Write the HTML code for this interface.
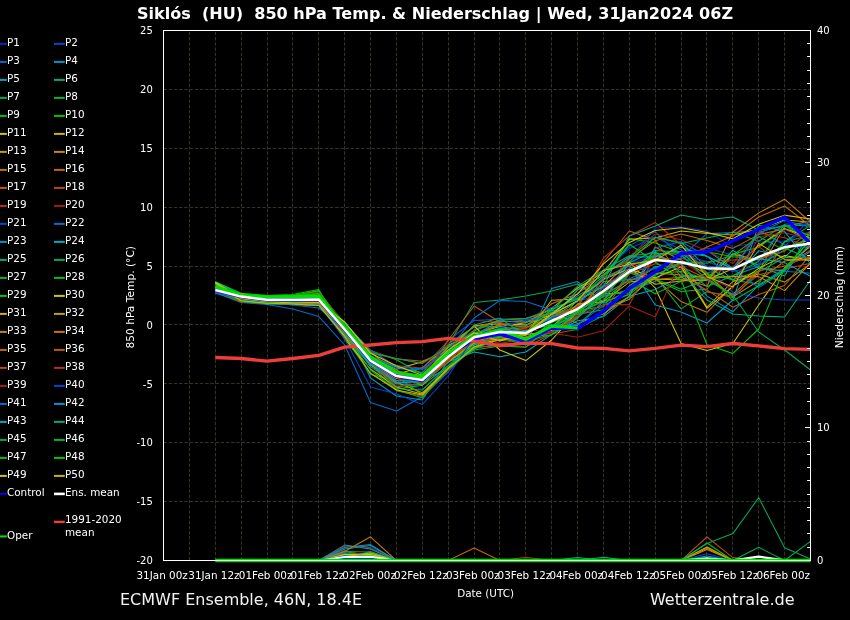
<!DOCTYPE html>
<html lang="de"><head><meta charset="utf-8">
<title>Siklós (HU) 850 hPa Temp. &amp; Niederschlag</title>
<style>
html,body{margin:0;padding:0;background:#000;}
body{width:850px;height:620px;overflow:hidden;}
svg{display:block;will-change:transform;}
text{font-family:"DejaVu Sans","Liberation Sans",sans-serif;fill:#fff;}
.t10{font-size:10.4px;}
.thin polyline{fill:none;stroke-width:1.05;stroke-linejoin:round;}
.grid line{stroke:#343223;stroke-width:1;stroke-dasharray:3.5 1.7;}
.spine{stroke:#fff;stroke-width:1;fill:none;}
.tick line{stroke:#fff;stroke-width:1;}
.t10s{font-size:10px;}
.t107{font-size:10.67px;}
</style></head><body>
<svg width="850" height="620" viewBox="0 0 850 620" role="img" aria-label="ECMWF Ensemble Siklós">
<rect x="0" y="0" width="850" height="620" fill="#000"/>
<g class="grid">
<line x1="189.5" y1="560.5" x2="189.5" y2="30.5"/>
<line x1="215.5" y1="560.5" x2="215.5" y2="30.5"/>
<line x1="241.5" y1="560.5" x2="241.5" y2="30.5"/>
<line x1="267.5" y1="560.5" x2="267.5" y2="30.5"/>
<line x1="292.5" y1="560.5" x2="292.5" y2="30.5"/>
<line x1="318.5" y1="560.5" x2="318.5" y2="30.5"/>
<line x1="344.5" y1="560.5" x2="344.5" y2="30.5"/>
<line x1="370.5" y1="560.5" x2="370.5" y2="30.5"/>
<line x1="396.5" y1="560.5" x2="396.5" y2="30.5"/>
<line x1="422.5" y1="560.5" x2="422.5" y2="30.5"/>
<line x1="448.5" y1="560.5" x2="448.5" y2="30.5"/>
<line x1="474.5" y1="560.5" x2="474.5" y2="30.5"/>
<line x1="499.5" y1="560.5" x2="499.5" y2="30.5"/>
<line x1="525.5" y1="560.5" x2="525.5" y2="30.5"/>
<line x1="551.5" y1="560.5" x2="551.5" y2="30.5"/>
<line x1="577.5" y1="560.5" x2="577.5" y2="30.5"/>
<line x1="603.5" y1="560.5" x2="603.5" y2="30.5"/>
<line x1="629.5" y1="560.5" x2="629.5" y2="30.5"/>
<line x1="655.5" y1="560.5" x2="655.5" y2="30.5"/>
<line x1="681.5" y1="560.5" x2="681.5" y2="30.5"/>
<line x1="706.5" y1="560.5" x2="706.5" y2="30.5"/>
<line x1="732.5" y1="560.5" x2="732.5" y2="30.5"/>
<line x1="758.5" y1="560.5" x2="758.5" y2="30.5"/>
<line x1="784.5" y1="560.5" x2="784.5" y2="30.5"/>
<line x1="163.5" y1="501.5" x2="810.5" y2="501.5"/>
<line x1="163.5" y1="442.5" x2="810.5" y2="442.5"/>
<line x1="163.5" y1="383.5" x2="810.5" y2="383.5"/>
<line x1="163.5" y1="324.5" x2="810.5" y2="324.5"/>
<line x1="163.5" y1="266.5" x2="810.5" y2="266.5"/>
<line x1="163.5" y1="207.5" x2="810.5" y2="207.5"/>
<line x1="163.5" y1="148.5" x2="810.5" y2="148.5"/>
<line x1="163.5" y1="89.5" x2="810.5" y2="89.5"/>
</g>
<g class="thin">
<polyline points="215.3,289.8 241.1,298.7 267.0,301.6 292.9,300.9 318.8,298.5 344.7,325.5 370.5,361.2 396.4,380.5 422.3,389.6 448.2,364.1 474.1,344.3 499.9,338.2 525.8,327.4 551.7,321.9 577.6,315.6 603.5,301.4 629.3,259.3 655.2,228.1 681.1,226.8 707.0,231.0 732.9,247.1 758.7,242.0 784.6,241.0 810.5,231.2" stroke="rgb(0,40,200)"/>
<polyline points="215.3,293.4 241.1,299.4 267.0,301.8 292.9,303.0 318.8,304.0 344.7,337.7 370.5,364.5 396.4,377.2 422.3,378.3 448.2,354.9 474.1,339.0 499.9,334.8 525.8,331.9 551.7,314.1 577.6,300.8 603.5,295.3 629.3,263.7 655.2,256.3 681.1,264.6 707.0,247.9 732.9,255.0 758.7,264.9 784.6,224.1 810.5,224.1" stroke="rgb(0,70,210)"/>
<polyline points="215.3,292.8 241.1,302.4 267.0,304.5 292.9,309.0 318.8,316.6 344.7,345.0 370.5,402.5 396.4,411.0 422.3,396.8 448.2,372.0 474.1,345.6 499.9,330.9 525.8,335.3 551.7,318.8 577.6,305.4 603.5,276.9 629.3,245.6 655.2,231.9 681.1,257.1 707.0,233.6 732.9,232.4 758.7,230.2 784.6,244.7 810.5,248.0" stroke="rgb(0,110,210)"/>
<polyline points="215.3,287.1 241.1,294.0 267.0,297.7 292.9,296.2 318.8,293.6 344.7,324.8 370.5,378.0 396.4,396.0 422.3,400.0 448.2,360.8 474.1,348.6 499.9,343.8 525.8,344.5 551.7,288.6 577.6,281.6 603.5,303.3 629.3,290.4 655.2,281.4 681.1,251.4 707.0,250.5 732.9,268.3 758.7,232.5 784.6,224.9 810.5,240.4" stroke="rgb(0,150,205)"/>
<polyline points="215.3,288.1 241.1,298.7 267.0,302.7 292.9,302.3 318.8,302.9 344.7,333.0 370.5,363.5 396.4,386.7 422.3,384.0 448.2,356.8 474.1,342.7 499.9,336.2 525.8,330.4 551.7,324.8 577.6,325.4 603.5,301.3 629.3,262.7 655.2,250.6 681.1,252.1 707.0,256.2 732.9,280.4 758.7,250.7 784.6,257.1 810.5,234.2" stroke="rgb(0,170,190)"/>
<polyline points="215.3,288.9 241.1,298.1 267.0,303.0 292.9,304.7 318.8,305.1 344.7,333.4 370.5,364.0 396.4,384.0 422.3,384.9 448.2,361.2 474.1,343.2 499.9,336.4 525.8,340.3 551.7,330.0 577.6,328.6 603.5,315.6 629.3,286.0 655.2,266.5 681.1,266.8 707.0,286.4 732.9,275.8 758.7,266.4 784.6,276.0 810.5,231.0" stroke="rgb(0,170,130)"/>
<polyline points="215.3,288.4 241.1,297.1 267.0,301.3 292.9,296.5 318.8,290.5 344.7,330.5 370.5,362.0 396.4,376.1 422.3,394.7 448.2,367.9 474.1,341.8 499.9,334.9 525.8,333.3 551.7,320.7 577.6,289.8 603.5,270.6 629.3,262.0 655.2,237.2 681.1,242.5 707.0,267.7 732.9,280.3 758.7,283.9 784.6,241.9 810.5,235.2" stroke="rgb(0,170,90)"/>
<polyline points="215.3,289.6 241.1,298.7 267.0,303.4 292.9,298.2 318.8,301.0 344.7,323.8 370.5,357.9 396.4,366.7 422.3,373.0 448.2,358.7 474.1,337.4 499.9,333.3 525.8,338.2 551.7,325.7 577.6,314.3 603.5,309.7 629.3,297.1 655.2,276.5 681.1,308.9 707.0,291.4 732.9,297.5 758.7,271.9 784.6,257.5 810.5,257.7" stroke="rgb(0,180,60)"/>
<polyline points="215.3,284.2 241.1,299.6 267.0,300.4 292.9,295.8 318.8,292.2 344.7,323.5 370.5,350.6 396.4,359.8 422.3,374.2 448.2,357.0 474.1,345.2 499.9,332.7 525.8,332.9 551.7,313.7 577.6,310.3 603.5,306.7 629.3,272.9 655.2,280.1 681.1,291.5 707.0,289.2 732.9,253.9 758.7,265.6 784.6,249.9 810.5,237.4" stroke="rgb(0,190,30)"/>
<polyline points="215.3,281.8 241.1,293.3 267.0,295.5 292.9,294.5 318.8,289.4 344.7,338.1 370.5,373.5 396.4,388.9 422.3,385.3 448.2,365.6 474.1,343.8 499.9,337.6 525.8,345.1 551.7,328.4 577.6,299.9 603.5,280.1 629.3,238.6 655.2,243.1 681.1,252.6 707.0,251.7 732.9,256.8 758.7,259.8 784.6,248.1 810.5,259.0" stroke="rgb(0,200,0)"/>
<polyline points="215.3,290.1 241.1,299.7 267.0,303.8 292.9,304.0 318.8,305.5 344.7,336.3 370.5,358.1 396.4,369.2 422.3,361.7 448.2,350.7 474.1,325.7 499.9,323.7 525.8,325.0 551.7,314.6 577.6,300.7 603.5,286.3 629.3,262.0 655.2,288.0 681.1,343.5 707.0,350.5 732.9,343.5 758.7,305.0 784.6,268.0 810.5,246.2" stroke="rgb(210,200,0)"/>
<polyline points="215.3,287.5 241.1,295.2 267.0,300.7 292.9,302.2 318.8,302.0 344.7,332.6 370.5,363.4 396.4,373.7 422.3,367.8 448.2,345.2 474.1,333.6 499.9,326.4 525.8,322.8 551.7,308.3 577.6,288.0 603.5,272.4 629.3,239.3 655.2,237.9 681.1,231.1 707.0,233.4 732.9,234.9 758.7,229.2 784.6,220.0 810.5,222.0" stroke="rgb(205,180,0)"/>
<polyline points="215.3,286.6 241.1,293.9 267.0,298.9 292.9,297.9 318.8,299.9 344.7,330.4 370.5,363.5 396.4,382.2 422.3,392.8 448.2,368.4 474.1,347.7 499.9,328.1 525.8,334.8 551.7,330.4 577.6,316.9 603.5,293.8 629.3,292.9 655.2,254.8 681.1,264.1 707.0,307.2 732.9,281.5 758.7,274.1 784.6,282.1 810.5,263.9" stroke="rgb(200,160,0)"/>
<polyline points="215.3,291.1 241.1,300.4 267.0,301.9 292.9,301.7 318.8,302.2 344.7,332.9 370.5,362.8 396.4,378.6 422.3,375.2 448.2,351.5 474.1,338.0 499.9,333.2 525.8,328.4 551.7,312.1 577.6,323.4 603.5,313.8 629.3,296.2 655.2,247.1 681.1,260.0 707.0,274.3 732.9,296.9 758.7,280.7 784.6,261.1 810.5,257.9" stroke="rgb(200,140,0)"/>
<polyline points="215.3,287.1 241.1,297.0 267.0,301.1 292.9,299.7 318.8,303.0 344.7,337.1 370.5,360.7 396.4,374.0 422.3,379.6 448.2,357.3 474.1,335.0 499.9,325.1 525.8,339.7 551.7,332.4 577.6,311.8 603.5,281.6 629.3,279.4 655.2,278.3 681.1,301.6 707.0,312.3 732.9,285.8 758.7,271.2 784.6,226.7 810.5,220.8" stroke="rgb(200,120,0)"/>
<polyline points="215.3,290.1 241.1,299.0 267.0,301.1 292.9,300.8 318.8,301.8 344.7,330.9 370.5,363.9 396.4,381.9 422.3,382.2 448.2,362.4 474.1,341.1 499.9,330.4 525.8,327.5 551.7,316.7 577.6,306.2 603.5,290.3 629.3,268.3 655.2,259.1 681.1,259.1 707.0,247.0 732.9,236.0 758.7,217.0 784.6,206.0 810.5,226.0" stroke="rgb(195,105,0)"/>
<polyline points="215.3,290.9 241.1,297.7 267.0,298.5 292.9,298.6 318.8,296.3 344.7,326.7 370.5,353.0 396.4,358.8 422.3,361.2 448.2,350.3 474.1,330.1 499.9,319.4 525.8,318.3 551.7,312.9 577.6,307.5 603.5,262.0 629.3,231.0 655.2,240.0 681.1,277.4 707.0,289.9 732.9,307.2 758.7,294.5 784.6,285.5 810.5,254.7" stroke="rgb(190,90,10)"/>
<polyline points="215.3,289.9 241.1,299.2 267.0,301.8 292.9,303.9 318.8,305.0 344.7,335.9 370.5,364.7 396.4,390.7 422.3,396.2 448.2,370.1 474.1,347.0 499.9,346.1 525.8,346.9 551.7,334.3 577.6,329.2 603.5,311.2 629.3,273.9 655.2,263.7 681.1,269.7 707.0,291.9 732.9,295.9 758.7,274.7 784.6,269.0 810.5,263.2" stroke="rgb(190,70,20)"/>
<polyline points="215.3,290.5 241.1,298.7 267.0,301.6 292.9,297.0 318.8,291.5 344.7,325.6 370.5,356.6 396.4,365.6 422.3,368.3 448.2,340.7 474.1,320.2 499.9,322.5 525.8,328.5 551.7,317.1 577.6,305.7 603.5,258.0 629.3,236.0 655.2,222.5 681.1,245.0 707.0,272.7 732.9,268.6 758.7,232.6 784.6,237.7 810.5,247.7" stroke="rgb(180,50,25)"/>
<polyline points="215.3,287.1 241.1,295.5 267.0,300.5 292.9,297.0 318.8,292.6 344.7,323.8 370.5,351.3 396.4,358.7 422.3,363.5 448.2,347.4 474.1,333.6 499.9,333.4 525.8,342.4 551.7,334.9 577.6,313.4 603.5,290.5 629.3,256.7 655.2,234.0 681.1,239.8 707.0,251.0 732.9,263.6 758.7,232.4 784.6,215.1 810.5,219.1" stroke="rgb(160,30,20)"/>
<polyline points="215.3,289.9 241.1,297.6 267.0,301.0 292.9,299.5 318.8,301.2 344.7,330.3 370.5,360.3 396.4,373.6 422.3,376.4 448.2,340.3 474.1,320.5 499.9,319.0 525.8,319.5 551.7,307.3 577.6,300.0 603.5,271.2 629.3,248.5 655.2,237.0 681.1,249.7 707.0,268.1 732.9,292.0 758.7,298.0 784.6,300.0 810.5,300.0" stroke="rgb(0,70,210)"/>
<polyline points="215.3,291.3 241.1,299.8 267.0,301.7 292.9,299.0 318.8,298.1 344.7,323.3 370.5,350.0 396.4,366.8 422.3,368.9 448.2,350.1 474.1,334.9 499.9,328.2 525.8,343.2 551.7,326.6 577.6,324.3 603.5,305.4 629.3,294.0 655.2,248.0 681.1,241.7 707.0,256.2 732.9,268.8 758.7,287.5 784.6,271.2 810.5,273.3" stroke="rgb(0,110,210)"/>
<polyline points="215.3,291.4 241.1,300.8 267.0,304.0 292.9,303.8 318.8,304.7 344.7,328.8 370.5,364.3 396.4,375.5 422.3,380.6 448.2,368.7 474.1,344.2 499.9,337.2 525.8,343.3 551.7,328.9 577.6,311.7 603.5,295.9 629.3,279.7 655.2,275.0 681.1,263.0 707.0,296.1 732.9,311.7 758.7,284.9 784.6,268.6 810.5,251.5" stroke="rgb(0,150,205)"/>
<polyline points="215.3,292.4 241.1,299.4 267.0,303.3 292.9,302.4 318.8,300.4 344.7,330.7 370.5,366.6 396.4,383.3 422.3,381.1 448.2,361.8 474.1,352.0 499.9,356.7 525.8,352.0 551.7,334.4 577.6,320.7 603.5,316.7 629.3,296.3 655.2,289.4 681.1,276.2 707.0,279.1 732.9,250.2 758.7,268.2 784.6,271.0 810.5,243.8" stroke="rgb(0,170,190)"/>
<polyline points="215.3,287.8 241.1,293.9 267.0,300.1 292.9,299.2 318.8,299.0 344.7,325.7 370.5,356.2 396.4,367.3 422.3,372.6 448.2,343.8 474.1,327.1 499.9,326.6 525.8,331.0 551.7,317.9 577.6,301.3 603.5,286.2 629.3,236.0 655.2,226.0 681.1,215.0 707.0,219.7 732.9,217.0 758.7,230.0 784.6,226.3 810.5,225.1" stroke="rgb(0,170,130)"/>
<polyline points="215.3,290.6 241.1,299.5 267.0,303.3 292.9,304.2 318.8,304.9 344.7,332.8 370.5,374.5 396.4,380.5 422.3,379.9 448.2,345.0 474.1,302.4 499.9,300.0 525.8,295.9 551.7,291.0 577.6,284.0 603.5,302.0 629.3,257.6 655.2,237.2 681.1,243.4 707.0,238.1 732.9,232.3 758.7,241.2 784.6,225.0 810.5,236.0" stroke="rgb(0,170,90)"/>
<polyline points="215.3,291.4 241.1,299.9 267.0,303.4 292.9,303.2 318.8,299.4 344.7,327.1 370.5,359.8 396.4,373.9 422.3,377.1 448.2,358.9 474.1,333.5 499.9,333.0 525.8,344.2 551.7,325.9 577.6,316.3 603.5,296.2 629.3,290.6 655.2,278.9 681.1,289.3 707.0,279.6 732.9,275.8 758.7,261.2 784.6,224.6 810.5,245.2" stroke="rgb(0,180,60)"/>
<polyline points="215.3,291.6 241.1,297.2 267.0,301.9 292.9,301.6 318.8,302.5 344.7,331.6 370.5,355.5 396.4,371.6 422.3,385.2 448.2,356.7 474.1,331.1 499.9,320.2 525.8,318.6 551.7,310.1 577.6,314.2 603.5,299.6 629.3,279.3 655.2,293.7 681.1,281.4 707.0,273.6 732.9,279.7 758.7,271.0 784.6,241.7 810.5,225.4" stroke="rgb(0,190,30)"/>
<polyline points="215.3,283.0 241.1,294.0 267.0,296.0 292.9,295.2 318.8,291.0 344.7,327.9 370.5,358.1 396.4,374.7 422.3,376.2 448.2,360.0 474.1,346.9 499.9,337.0 525.8,341.3 551.7,322.4 577.6,312.7 603.5,301.2 629.3,294.7 655.2,273.5 681.1,271.5 707.0,279.1 732.9,253.9 758.7,247.2 784.6,229.0 810.5,235.4" stroke="rgb(0,200,0)"/>
<polyline points="215.3,288.4 241.1,294.0 267.0,298.6 292.9,299.0 318.8,297.6 344.7,328.5 370.5,358.0 396.4,371.7 422.3,379.0 448.2,347.2 474.1,326.2 499.9,350.0 525.8,360.6 551.7,340.0 577.6,311.1 603.5,287.2 629.3,268.9 655.2,278.1 681.1,266.7 707.0,308.4 732.9,286.4 758.7,268.4 784.6,255.5 810.5,260.2" stroke="rgb(210,200,0)"/>
<polyline points="215.3,288.2 241.1,293.7 267.0,299.1 292.9,300.6 318.8,302.0 344.7,339.0 370.5,369.0 396.4,387.1 422.3,394.2 448.2,367.7 474.1,348.6 499.9,337.3 525.8,334.3 551.7,300.3 577.6,298.9 603.5,279.3 629.3,268.8 655.2,284.2 681.1,281.0 707.0,279.7 732.9,268.8 758.7,245.7 784.6,228.5 810.5,238.3" stroke="rgb(205,180,0)"/>
<polyline points="215.3,290.2 241.1,298.5 267.0,301.5 292.9,303.3 318.8,304.2 344.7,331.5 370.5,364.5 396.4,380.5 422.3,375.9 448.2,362.0 474.1,343.2 499.9,331.1 525.8,338.1 551.7,326.9 577.6,304.1 603.5,301.7 629.3,282.1 655.2,279.2 681.1,279.8 707.0,280.3 732.9,254.0 758.7,259.9 784.6,247.4 810.5,239.5" stroke="rgb(200,160,0)"/>
<polyline points="215.3,290.7 241.1,299.0 267.0,303.0 292.9,302.3 318.8,301.9 344.7,322.3 370.5,352.0 396.4,373.1 422.3,385.5 448.2,358.0 474.1,337.1 499.9,340.8 525.8,337.3 551.7,328.7 577.6,329.8 603.5,309.9 629.3,299.3 655.2,273.1 681.1,275.1 707.0,277.7 732.9,276.4 758.7,276.6 784.6,290.6 810.5,262.9" stroke="rgb(200,140,0)"/>
<polyline points="215.3,289.3 241.1,298.2 267.0,300.1 292.9,301.0 318.8,302.3 344.7,329.1 370.5,361.9 396.4,370.2 422.3,379.5 448.2,347.7 474.1,326.4 499.9,321.3 525.8,321.9 551.7,317.7 577.6,308.6 603.5,287.4 629.3,271.7 655.2,279.4 681.1,277.3 707.0,286.3 732.9,232.0 758.7,212.9 784.6,199.2 810.5,222.0" stroke="rgb(200,120,0)"/>
<polyline points="215.3,292.8 241.1,298.8 267.0,301.9 292.9,302.7 318.8,304.8 344.7,335.0 370.5,363.6 396.4,374.6 422.3,378.9 448.2,361.6 474.1,334.3 499.9,324.3 525.8,326.4 551.7,303.7 577.6,293.7 603.5,274.3 629.3,259.1 655.2,240.7 681.1,234.0 707.0,240.4 732.9,248.4 758.7,234.6 784.6,229.0 810.5,239.9" stroke="rgb(195,105,0)"/>
<polyline points="215.3,292.1 241.1,301.9 267.0,303.5 292.9,302.7 318.8,296.2 344.7,330.6 370.5,357.9 396.4,374.8 422.3,381.8 448.2,340.0 474.1,306.0 499.9,322.0 525.8,320.2 551.7,312.9 577.6,312.9 603.5,277.8 629.3,266.1 655.2,257.7 681.1,266.5 707.0,278.8 732.9,294.5 758.7,270.5 784.6,266.2 810.5,250.2" stroke="rgb(190,90,10)"/>
<polyline points="215.3,291.3 241.1,298.3 267.0,301.4 292.9,304.8 318.8,305.4 344.7,332.7 370.5,358.0 396.4,370.7 422.3,376.4 448.2,359.4 474.1,341.1 499.9,337.8 525.8,336.7 551.7,332.1 577.6,317.7 603.5,293.7 629.3,281.1 655.2,268.1 681.1,264.3 707.0,261.6 732.9,259.9 758.7,259.1 784.6,251.2 810.5,231.1" stroke="rgb(190,70,20)"/>
<polyline points="215.3,290.9 241.1,299.2 267.0,300.9 292.9,302.3 318.8,301.4 344.7,328.0 370.5,362.0 396.4,386.3 422.3,383.5 448.2,361.2 474.1,335.2 499.9,343.5 525.8,338.3 551.7,332.4 577.6,316.0 603.5,304.5 629.3,304.8 655.2,255.3 681.1,251.9 707.0,268.2 732.9,266.9 758.7,246.6 784.6,265.9 810.5,255.7" stroke="rgb(180,50,25)"/>
<polyline points="215.3,287.5 241.1,297.2 267.0,298.4 292.9,300.6 318.8,299.0 344.7,327.3 370.5,363.4 396.4,380.9 422.3,374.7 448.2,343.8 474.1,334.0 499.9,333.9 525.8,329.1 551.7,333.0 577.6,337.3 603.5,330.8 629.3,306.0 655.2,317.0 681.1,260.1 707.0,278.2 732.9,288.0 758.7,236.8 784.6,232.7 810.5,239.2" stroke="rgb(160,30,20)"/>
<polyline points="215.3,292.2 241.1,300.2 267.0,302.4 292.9,303.6 318.8,305.0 344.7,339.0 370.5,387.0 396.4,394.0 422.3,404.6 448.2,376.0 474.1,336.9 499.9,328.1 525.8,320.0 551.7,317.8 577.6,310.4 603.5,287.4 629.3,267.9 655.2,269.0 681.1,255.3 707.0,261.6 732.9,271.5 758.7,265.4 784.6,246.6 810.5,218.2" stroke="rgb(0,70,210)"/>
<polyline points="215.3,291.6 241.1,300.0 267.0,302.5 292.9,305.0 318.8,308.0 344.7,329.4 370.5,355.7 396.4,368.7 422.3,369.8 448.2,350.0 474.1,318.0 499.9,300.5 525.8,301.5 551.7,310.0 577.6,297.7 603.5,284.9 629.3,278.7 655.2,267.9 681.1,257.9 707.0,266.0 732.9,268.9 758.7,233.9 784.6,220.3 810.5,227.4" stroke="rgb(0,110,210)"/>
<polyline points="215.3,289.4 241.1,297.8 267.0,302.3 292.9,303.7 318.8,305.6 344.7,335.5 370.5,364.0 396.4,380.7 422.3,381.6 448.2,355.8 474.1,335.2 499.9,321.1 525.8,322.1 551.7,312.4 577.6,295.9 603.5,279.9 629.3,264.8 655.2,305.0 681.1,312.0 707.0,323.0 732.9,300.0 758.7,225.2 784.6,231.6 810.5,264.0" stroke="rgb(0,150,205)"/>
<polyline points="215.3,281.8 241.1,294.9 267.0,299.9 292.9,299.3 318.8,300.6 344.7,322.5 370.5,355.9 396.4,375.1 422.3,378.9 448.2,352.6 474.1,337.4 499.9,329.5 525.8,331.9 551.7,316.8 577.6,290.0 603.5,274.9 629.3,256.8 655.2,257.0 681.1,247.2 707.0,256.3 732.9,269.0 758.7,258.8 784.6,262.6 810.5,276.2" stroke="rgb(0,170,190)"/>
<polyline points="215.3,288.7 241.1,294.4 267.0,300.0 292.9,302.9 318.8,304.9 344.7,335.5 370.5,362.6 396.4,375.6 422.3,384.7 448.2,354.5 474.1,325.1 499.9,318.0 525.8,336.3 551.7,334.9 577.6,318.3 603.5,292.7 629.3,272.9 655.2,251.3 681.1,272.9 707.0,300.0 732.9,314.0 758.7,316.0 784.6,317.0 810.5,280.0" stroke="rgb(0,170,130)"/>
<polyline points="215.3,290.2 241.1,297.9 267.0,301.8 292.9,300.4 318.8,295.7 344.7,324.2 370.5,352.5 396.4,358.6 422.3,363.4 448.2,346.3 474.1,332.3 499.9,329.3 525.8,325.7 551.7,310.9 577.6,286.1 603.5,270.0 629.3,255.7 655.2,253.3 681.1,254.6 707.0,280.0 732.9,295.0 758.7,332.0 784.6,350.0 810.5,370.0" stroke="rgb(0,170,90)"/>
<polyline points="215.3,290.5 241.1,300.5 267.0,302.4 292.9,301.7 318.8,299.4 344.7,324.5 370.5,362.1 396.4,388.8 422.3,390.0 448.2,366.1 474.1,350.0 499.9,345.9 525.8,347.2 551.7,326.1 577.6,310.4 603.5,296.6 629.3,289.8 655.2,275.6 681.1,262.3 707.0,263.3 732.9,255.2 758.7,236.6 784.6,250.1 810.5,237.2" stroke="rgb(0,180,60)"/>
<polyline points="215.3,284.8 241.1,301.4 267.0,303.5 292.9,296.0 318.8,293.5 344.7,333.3 370.5,370.0 396.4,390.1 422.3,397.7 448.2,369.1 474.1,348.6 499.9,339.2 525.8,340.5 551.7,334.7 577.6,312.0 603.5,293.3 629.3,273.6 655.2,254.0 681.1,252.6 707.0,273.1 732.9,300.8 758.7,285.8 784.6,270.0 810.5,239.2" stroke="rgb(0,190,30)"/>
<polyline points="215.3,283.6 241.1,294.4 267.0,296.4 292.9,296.2 318.8,294.0 344.7,325.2 370.5,356.5 396.4,376.3 422.3,379.9 448.2,358.0 474.1,333.0 499.9,337.0 525.8,332.4 551.7,309.1 577.6,298.9 603.5,275.9 629.3,244.2 655.2,262.0 681.1,280.0 707.0,344.7 732.9,353.4 758.7,329.0 784.6,268.0 810.5,240.0" stroke="rgb(0,200,0)"/>
<polyline points="215.3,282.2 241.1,298.4 267.0,301.6 292.9,303.0 318.8,302.4 344.7,322.0 370.5,353.3 396.4,365.7 422.3,375.2 448.2,350.1 474.1,332.8 499.9,341.1 525.8,333.2 551.7,314.0 577.6,293.9 603.5,263.8 629.3,242.4 655.2,230.6 681.1,227.7 707.0,232.4 732.9,238.7 758.7,224.2 784.6,215.2 810.5,219.1" stroke="rgb(210,200,0)"/>
<polyline points="215.3,283.0 241.1,300.7 267.0,303.3 292.9,303.9 318.8,305.4 344.7,336.2 370.5,373.3 396.4,390.0 422.3,395.1 448.2,368.7 474.1,347.0 499.9,339.5 525.8,335.2 551.7,314.3 577.6,300.9 603.5,270.5 629.3,264.3 655.2,260.3 681.1,245.2 707.0,276.6 732.9,287.0 758.7,243.4 784.6,259.4 810.5,260.2" stroke="rgb(205,180,0)"/>
</g>
<g fill="none" stroke-linejoin="round" stroke-linecap="butt">
<polyline points="215.3,290.0 241.1,296.6 267.0,299.8 292.9,299.8 318.8,299.6 344.7,329.5 370.5,360.6 396.4,376.3 422.3,380.6 448.2,355.0 474.1,338.6 499.9,334.0 525.8,341.5 551.7,328.0 577.6,328.3 603.5,311.0 629.3,288.7 655.2,271.8 681.1,253.5 707.0,251.8 732.9,240.9 758.7,229.3 784.6,217.0 810.5,243.6" stroke="#0000ff" stroke-width="3.4"/>
<polyline points="215.3,357.5 241.1,358.5 267.0,361.1 292.9,358.5 318.8,355.4 344.7,347.1 370.5,345.0 396.4,342.7 422.3,341.7 448.2,338.3 474.1,341.2 499.9,345.6 525.8,343.2 551.7,343.7 577.6,348.0 603.5,348.4 629.3,350.8 655.2,348.3 681.1,345.2 707.0,346.6 732.9,343.5 758.7,345.9 784.6,348.7 810.5,349.4" stroke="#ee3e3a" stroke-width="3.3"/>
<polyline points="215.3,286.5 241.1,295.6 267.0,297.0 292.9,296.8 318.8,296.4 344.7,328.0 370.5,357.0 396.4,372.5 422.3,376.6 448.2,352.8 474.1,336.8 499.9,330.0 525.8,339.4 551.7,326.2 577.6,328.0" stroke="#00e000" stroke-width="3.1"/>
<polyline points="215.3,290.0 241.1,296.6 267.0,299.8 292.9,299.8 318.8,299.6 344.7,329.5 370.5,360.6 396.4,376.1 422.3,380.0 448.2,356.7 474.1,337.3 499.9,332.1 525.8,332.9 551.7,321.0 577.6,309.0 603.5,291.0 629.3,271.5 655.2,260.0 681.1,262.2 707.0,268.3 732.9,269.1 758.7,256.8 784.6,247.2 810.5,243.6" stroke="#ffffff" stroke-width="2.5"/>
</g>
<g fill="none" stroke-linejoin="round">
<polyline points="318.8,560.5 344.7,559.6 370.5,555.4 396.4,560.5" stroke="rgb(0,40,200)" stroke-width="1.05"/>
<polyline points="318.8,560.5 344.7,554.7 370.5,557.5 396.4,560.5" stroke="rgb(0,70,210)" stroke-width="1.05"/>
<polyline points="318.8,560.5 344.7,559.8 370.5,556.5 396.4,560.5" stroke="rgb(0,110,210)" stroke-width="1.05"/>
<polyline points="318.8,560.5 344.7,555.8 370.5,553.7 396.4,560.5" stroke="rgb(0,150,205)" stroke-width="1.05"/>
<polyline points="318.8,560.5 344.7,559.6 370.5,559.4 396.4,560.5" stroke="rgb(0,170,190)" stroke-width="1.05"/>
<polyline points="318.8,560.5 344.7,555.3 370.5,555.2 396.4,560.5" stroke="rgb(0,170,130)" stroke-width="1.05"/>
<polyline points="318.8,560.5 344.7,553.5 370.5,553.9 396.4,560.5" stroke="rgb(0,170,90)" stroke-width="1.05"/>
<polyline points="318.8,560.5 344.7,557.1 370.5,557.0 396.4,560.5" stroke="rgb(0,180,60)" stroke-width="1.05"/>
<polyline points="318.8,560.5 344.7,551.2 370.5,557.0 396.4,560.5" stroke="rgb(0,190,30)" stroke-width="1.05"/>
<polyline points="318.8,560.5 344.7,558.6 370.5,559.0 396.4,560.5" stroke="rgb(0,200,0)" stroke-width="1.05"/>
<polyline points="318.8,560.5 344.7,556.7 370.5,556.0 396.4,560.5" stroke="rgb(210,200,0)" stroke-width="1.05"/>
<polyline points="318.8,560.5 344.7,557.7 370.5,556.4 396.4,560.5" stroke="rgb(205,180,0)" stroke-width="1.05"/>
<polyline points="318.8,560.5 344.7,556.3 370.5,554.6 396.4,560.5" stroke="rgb(200,160,0)" stroke-width="1.05"/>
<polyline points="318.8,560.5 344.7,554.5 370.5,555.8 396.4,560.5" stroke="rgb(200,140,0)" stroke-width="1.05"/>
<polyline points="318.8,560.5 344.7,560.2 370.5,554.6 396.4,560.5" stroke="rgb(200,120,0)" stroke-width="1.05"/>
<polyline points="318.8,560.5 344.7,560.0 370.5,556.7 396.4,560.5" stroke="rgb(195,105,0)" stroke-width="1.05"/>
<polyline points="318.8,560.5 344.7,560.1 370.5,556.3 396.4,560.5" stroke="rgb(190,90,10)" stroke-width="1.05"/>
<polyline points="318.8,560.5 344.7,558.6 370.5,555.8 396.4,560.5" stroke="rgb(190,70,20)" stroke-width="1.05"/>
<polyline points="318.8,560.5 344.7,550.5 370.5,556.4 396.4,560.5" stroke="rgb(180,50,25)" stroke-width="1.05"/>
<polyline points="318.8,560.5 344.7,555.0 370.5,559.5 396.4,560.5" stroke="rgb(160,30,20)" stroke-width="1.05"/>
<polyline points="318.8,560.5 344.7,557.5 370.5,554.7 396.4,560.5" stroke="rgb(0,70,210)" stroke-width="1.05"/>
<polyline points="318.8,560.5 344.7,557.1 370.5,555.4 396.4,560.5" stroke="rgb(0,110,210)" stroke-width="1.05"/>
<polyline points="318.8,560.5 344.7,556.7 370.5,558.7 396.4,560.5" stroke="rgb(0,150,205)" stroke-width="1.05"/>
<polyline points="318.8,560.5 344.7,555.7 370.5,558.2 396.4,560.5" stroke="rgb(0,170,190)" stroke-width="1.05"/>
<polyline points="318.8,560.5 344.7,552.8 370.5,557.5 396.4,560.5" stroke="rgb(0,170,130)" stroke-width="1.05"/>
<polyline points="318.8,560.5 344.7,555.4 370.5,556.3 396.4,560.5" stroke="rgb(0,170,90)" stroke-width="1.05"/>
<polyline points="318.8,560.5 344.7,554.8 370.5,557.7 396.4,560.5" stroke="rgb(0,180,60)" stroke-width="1.05"/>
<polyline points="318.8,560.5 344.7,554.7 370.5,556.6 396.4,560.5" stroke="rgb(0,190,30)" stroke-width="1.05"/>
<polyline points="318.8,560.5 344.7,554.1 370.5,554.8 396.4,560.5" stroke="rgb(0,200,0)" stroke-width="1.05"/>
<polyline points="318.8,560.5 344.7,556.6 370.5,558.2 396.4,560.5" stroke="rgb(210,200,0)" stroke-width="1.05"/>
<polyline points="318.8,560.5 344.7,555.2 370.5,555.2 396.4,560.5" stroke="rgb(205,180,0)" stroke-width="1.05"/>
<polyline points="318.8,560.5 344.7,553.3 370.5,557.2 396.4,560.5" stroke="rgb(200,160,0)" stroke-width="1.05"/>
<polyline points="318.8,560.5 344.7,555.7 370.5,555.1 396.4,560.5" stroke="rgb(200,140,0)" stroke-width="1.05"/>
<polyline points="318.8,560.5 344.7,556.3 370.5,555.8 396.4,560.5" stroke="rgb(200,120,0)" stroke-width="1.05"/>
<polyline points="318.8,560.5 344.7,556.5 370.5,557.7 396.4,560.5" stroke="rgb(195,105,0)" stroke-width="1.05"/>
<polyline points="318.8,560.5 344.7,559.1 370.5,557.3 396.4,560.5" stroke="rgb(190,90,10)" stroke-width="1.05"/>
<polyline points="318.8,560.5 344.7,555.6 370.5,552.7 396.4,560.5" stroke="rgb(190,70,20)" stroke-width="1.05"/>
<polyline points="318.8,560.5 344.7,554.8 370.5,553.8 396.4,560.5" stroke="rgb(180,50,25)" stroke-width="1.05"/>
<polyline points="318.8,560.5 344.7,555.2 370.5,554.6 396.4,560.5" stroke="rgb(160,30,20)" stroke-width="1.05"/>
<polyline points="318.8,560.5 344.7,556.5 370.5,554.4 396.4,560.5" stroke="rgb(0,70,210)" stroke-width="1.05"/>
<polyline points="318.8,560.5 344.7,553.0 370.5,557.1 396.4,560.5" stroke="rgb(0,110,210)" stroke-width="1.05"/>
<polyline points="318.8,560.5 344.7,558.4 370.5,551.6 396.4,560.5" stroke="rgb(0,150,205)" stroke-width="1.05"/>
<polyline points="318.8,560.5 344.7,556.4 370.5,554.0 396.4,560.5" stroke="rgb(0,170,190)" stroke-width="1.05"/>
<polyline points="318.8,560.5 344.7,555.0 370.5,559.0 396.4,560.5" stroke="rgb(0,170,130)" stroke-width="1.05"/>
<polyline points="318.8,560.5 344.7,551.5 370.5,552.0 396.4,560.5" stroke="rgb(0,170,90)" stroke-width="1.05"/>
<polyline points="318.8,560.5 344.7,556.5 370.5,554.5 396.4,560.5" stroke="rgb(0,180,60)" stroke-width="1.05"/>
<polyline points="318.8,560.5 344.7,556.6 370.5,558.4 396.4,560.5" stroke="rgb(0,190,30)" stroke-width="1.05"/>
<polyline points="318.8,560.5 344.7,557.1 370.5,555.4 396.4,560.5" stroke="rgb(0,200,0)" stroke-width="1.05"/>
<polyline points="318.8,560.5 344.7,554.4 370.5,554.6 396.4,560.5" stroke="rgb(210,200,0)" stroke-width="1.05"/>
<polyline points="318.8,560.5 344.7,556.8 370.5,553.0 396.4,560.5" stroke="rgb(205,180,0)" stroke-width="1.05"/>
<polyline points="318.8,560.5 344.7,545.1 370.5,549.0 396.4,560.5" stroke="rgb(0,170,190)" stroke-width="1.05"/>
<polyline points="318.8,560.5 344.7,546.0 370.5,547.6 396.4,560.5" stroke="rgb(180,50,25)" stroke-width="1.05"/>
<polyline points="318.8,560.5 344.7,547.5 370.5,544.6 396.4,560.5" stroke="rgb(0,150,205)" stroke-width="1.05"/>
<polyline points="318.8,560.5 344.7,549.0 370.5,545.5 396.4,560.5" stroke="rgb(0,150,205)" stroke-width="1.05"/>
<polyline points="318.8,560.5 344.7,551.5 370.5,536.8 396.4,560.5" stroke="rgb(200,120,0)" stroke-width="1.05"/>
<polyline points="448.2,560.5 474.1,548.0 499.9,560.5" stroke="rgb(195,105,0)" stroke-width="1.05"/>
<polyline points="499.9,560.5 525.8,557.3 551.7,560.5" stroke="rgb(180,50,25)" stroke-width="1.05"/>
<polyline points="551.7,560.5 577.6,557.6 603.5,560.5" stroke="rgb(0,170,190)" stroke-width="1.05"/>
<polyline points="577.6,560.5 603.5,557.2 629.3,560.5" stroke="rgb(0,170,190)" stroke-width="1.05"/>
<polyline points="681.1,560.5 707.0,537.0 732.9,557.6 758.7,560.5" stroke="rgb(190,70,20)" stroke-width="1.05"/>
<polyline points="681.1,560.5 707.0,543.0 732.9,560.5" stroke="rgb(0,200,0)" stroke-width="1.05"/>
<polyline points="681.1,560.5 707.0,547.0 732.9,560.5" stroke="rgb(205,180,0)" stroke-width="1.05"/>
<polyline points="681.1,560.5 707.0,548.2 732.9,560.5" stroke="rgb(200,140,0)" stroke-width="1.05"/>
<polyline points="681.1,560.5 707.0,549.5 732.9,560.5" stroke="rgb(200,140,0)" stroke-width="1.05"/>
<polyline points="681.1,560.5 707.0,553.8 732.9,560.5" stroke="rgb(0,70,210)" stroke-width="1.05"/>
<polyline points="681.1,560.5 707.0,556.0 732.9,560.5" stroke="rgb(0,150,205)" stroke-width="1.05"/>
<polyline points="681.1,560.5 707.0,543.4 732.9,533.6 758.7,497.6 784.6,547.8 810.5,559.0" stroke="rgb(0,170,90)" stroke-width="1.05"/>
<polyline points="732.9,560.5 758.7,547.3 784.6,560.5 810.5,541.3" stroke="rgb(0,170,90)" stroke-width="1.05"/>
<polyline points="318.8,560.5 344.7,557.6 370.5,558.6 396.4,560.5" stroke="#0000ff" stroke-width="3.0"/>
<polyline points="318.8,560.5 344.7,557.0 370.5,556.8 396.4,560.5" stroke="#ffffff" stroke-width="2.0"/>
<polyline points="681.1,560.5 707.0,558.2 732.9,560.5" stroke="#ffffff" stroke-width="2.0"/>
<polyline points="732.9,560.5 758.7,556.6 784.6,560.5" stroke="#ffffff" stroke-width="2.4"/>
<polyline points="215.3,560.5 810.5,560.5" stroke="#00e000" stroke-width="3.4"/>
</g>
<rect class="spine" x="163.5" y="30.5" width="647.0" height="530.0"/>
<g class="tick">
<line x1="810.5" y1="560.5" x2="805.0" y2="560.5"/>
<line x1="810.5" y1="547.5" x2="807.1" y2="547.5"/>
<line x1="810.5" y1="533.5" x2="807.1" y2="533.5"/>
<line x1="810.5" y1="520.5" x2="807.1" y2="520.5"/>
<line x1="810.5" y1="507.5" x2="807.1" y2="507.5"/>
<line x1="810.5" y1="494.5" x2="807.1" y2="494.5"/>
<line x1="810.5" y1="480.5" x2="807.1" y2="480.5"/>
<line x1="810.5" y1="467.5" x2="807.1" y2="467.5"/>
<line x1="810.5" y1="454.5" x2="807.1" y2="454.5"/>
<line x1="810.5" y1="441.5" x2="807.1" y2="441.5"/>
<line x1="810.5" y1="427.5" x2="805.0" y2="427.5"/>
<line x1="810.5" y1="414.5" x2="807.1" y2="414.5"/>
<line x1="810.5" y1="401.5" x2="807.1" y2="401.5"/>
<line x1="810.5" y1="388.5" x2="807.1" y2="388.5"/>
<line x1="810.5" y1="374.5" x2="807.1" y2="374.5"/>
<line x1="810.5" y1="361.5" x2="807.1" y2="361.5"/>
<line x1="810.5" y1="348.5" x2="807.1" y2="348.5"/>
<line x1="810.5" y1="335.5" x2="807.1" y2="335.5"/>
<line x1="810.5" y1="321.5" x2="807.1" y2="321.5"/>
<line x1="810.5" y1="308.5" x2="807.1" y2="308.5"/>
<line x1="810.5" y1="295.5" x2="805.0" y2="295.5"/>
<line x1="810.5" y1="282.5" x2="807.1" y2="282.5"/>
<line x1="810.5" y1="268.5" x2="807.1" y2="268.5"/>
<line x1="810.5" y1="255.5" x2="807.1" y2="255.5"/>
<line x1="810.5" y1="242.5" x2="807.1" y2="242.5"/>
<line x1="810.5" y1="229.5" x2="807.1" y2="229.5"/>
<line x1="810.5" y1="215.5" x2="807.1" y2="215.5"/>
<line x1="810.5" y1="202.5" x2="807.1" y2="202.5"/>
<line x1="810.5" y1="189.5" x2="807.1" y2="189.5"/>
<line x1="810.5" y1="176.5" x2="807.1" y2="176.5"/>
<line x1="810.5" y1="162.5" x2="805.0" y2="162.5"/>
<line x1="810.5" y1="149.5" x2="807.1" y2="149.5"/>
<line x1="810.5" y1="136.5" x2="807.1" y2="136.5"/>
<line x1="810.5" y1="123.5" x2="807.1" y2="123.5"/>
<line x1="810.5" y1="109.5" x2="807.1" y2="109.5"/>
<line x1="810.5" y1="96.5" x2="807.1" y2="96.5"/>
<line x1="810.5" y1="83.5" x2="807.1" y2="83.5"/>
<line x1="810.5" y1="70.5" x2="807.1" y2="70.5"/>
<line x1="810.5" y1="56.5" x2="807.1" y2="56.5"/>
<line x1="810.5" y1="43.5" x2="807.1" y2="43.5"/>
<line x1="810.5" y1="30.5" x2="805.0" y2="30.5"/>
</g>
<g class="t10s">
<text x="152.8" y="564.2" text-anchor="end">-20</text>
<text x="152.8" y="505.3" text-anchor="end">-15</text>
<text x="152.8" y="446.4" text-anchor="end">-10</text>
<text x="152.8" y="387.5" text-anchor="end">-5</text>
<text x="152.8" y="328.6" text-anchor="end">0</text>
<text x="152.8" y="269.8" text-anchor="end">5</text>
<text x="152.8" y="210.9" text-anchor="end">10</text>
<text x="152.8" y="152.0" text-anchor="end">15</text>
<text x="152.8" y="93.1" text-anchor="end">20</text>
<text x="152.8" y="34.2" text-anchor="end">25</text>
<text x="817.0" y="563.8">0</text>
<text x="817.0" y="431.3">10</text>
<text x="817.0" y="298.8">20</text>
<text x="817.0" y="166.3">30</text>
<text x="817.0" y="33.8">40</text>
</g>
<g class="t10">
<text x="162.1" y="578.9" text-anchor="middle">31Jan 00z</text>
<text x="213.9" y="578.9" text-anchor="middle">31Jan 12z</text>
<text x="265.6" y="578.9" text-anchor="middle">01Feb 00z</text>
<text x="317.4" y="578.9" text-anchor="middle">01Feb 12z</text>
<text x="369.1" y="578.9" text-anchor="middle">02Feb 00z</text>
<text x="420.9" y="578.9" text-anchor="middle">02Feb 12z</text>
<text x="472.7" y="578.9" text-anchor="middle">03Feb 00z</text>
<text x="524.4" y="578.9" text-anchor="middle">03Feb 12z</text>
<text x="576.2" y="578.9" text-anchor="middle">04Feb 00z</text>
<text x="627.9" y="578.9" text-anchor="middle">04Feb 12z</text>
<text x="679.7" y="578.9" text-anchor="middle">05Feb 00z</text>
<text x="731.5" y="578.9" text-anchor="middle">05Feb 12z</text>
<text x="783.2" y="578.9" text-anchor="middle">06Feb 00z</text>
<text x="485.6" y="596.6" text-anchor="middle">Date (UTC)</text>
</g>
<g class="t107">
<text transform="translate(134.0,297.3) rotate(-90)" text-anchor="middle">850 hPa Temp. (°C)</text>
<text transform="translate(843.2,297.1) rotate(-90)" text-anchor="middle">Niederschlag (mm)</text>
</g>
<text x="137.0" y="18.5" style="font-size:16.06px;font-weight:bold;white-space:pre;" xml:space="preserve">Siklós  (HU)  850 hPa Temp. &amp; Niederschlag | Wed, 31Jan2024 06Z</text>
<text x="120.0" y="604.8" style="font-size:16px;fill:#f2f2f2;">ECMWF Ensemble, 46N, 18.4E</text>
<text x="649.9" y="604.7" style="font-size:16.09px;fill:#f2f2f2;">Wetterzentrale.de</text>
<g class="t10">
<line x1="0.0" y1="43.9" x2="6.8" y2="43.9" stroke="rgb(0,40,200)" stroke-width="2"/>
<text x="7.0" y="45.8">P1</text>
<line x1="54.0" y1="43.9" x2="64.8" y2="43.9" stroke="rgb(0,70,210)" stroke-width="2"/>
<text x="65.0" y="45.8">P2</text>
<line x1="0.0" y1="61.9" x2="6.8" y2="61.9" stroke="rgb(0,110,210)" stroke-width="2"/>
<text x="7.0" y="63.8">P3</text>
<line x1="54.0" y1="61.9" x2="64.8" y2="61.9" stroke="rgb(0,150,205)" stroke-width="2"/>
<text x="65.0" y="63.8">P4</text>
<line x1="0.0" y1="79.9" x2="6.8" y2="79.9" stroke="rgb(0,170,190)" stroke-width="2"/>
<text x="7.0" y="81.8">P5</text>
<line x1="54.0" y1="79.9" x2="64.8" y2="79.9" stroke="rgb(0,170,130)" stroke-width="2"/>
<text x="65.0" y="81.8">P6</text>
<line x1="0.0" y1="97.9" x2="6.8" y2="97.9" stroke="rgb(0,170,90)" stroke-width="2"/>
<text x="7.0" y="99.8">P7</text>
<line x1="54.0" y1="97.9" x2="64.8" y2="97.9" stroke="rgb(0,180,60)" stroke-width="2"/>
<text x="65.0" y="99.8">P8</text>
<line x1="0.0" y1="115.9" x2="6.8" y2="115.9" stroke="rgb(0,190,30)" stroke-width="2"/>
<text x="7.0" y="117.8">P9</text>
<line x1="54.0" y1="115.9" x2="64.8" y2="115.9" stroke="rgb(0,200,0)" stroke-width="2"/>
<text x="65.0" y="117.8">P10</text>
<line x1="0.0" y1="133.9" x2="6.8" y2="133.9" stroke="rgb(210,200,0)" stroke-width="2"/>
<text x="7.0" y="135.8">P11</text>
<line x1="54.0" y1="133.9" x2="64.8" y2="133.9" stroke="rgb(205,180,0)" stroke-width="2"/>
<text x="65.0" y="135.8">P12</text>
<line x1="0.0" y1="151.9" x2="6.8" y2="151.9" stroke="rgb(200,160,0)" stroke-width="2"/>
<text x="7.0" y="153.8">P13</text>
<line x1="54.0" y1="151.9" x2="64.8" y2="151.9" stroke="rgb(200,140,0)" stroke-width="2"/>
<text x="65.0" y="153.8">P14</text>
<line x1="0.0" y1="169.9" x2="6.8" y2="169.9" stroke="rgb(200,120,0)" stroke-width="2"/>
<text x="7.0" y="171.8">P15</text>
<line x1="54.0" y1="169.9" x2="64.8" y2="169.9" stroke="rgb(195,105,0)" stroke-width="2"/>
<text x="65.0" y="171.8">P16</text>
<line x1="0.0" y1="187.9" x2="6.8" y2="187.9" stroke="rgb(190,90,10)" stroke-width="2"/>
<text x="7.0" y="189.8">P17</text>
<line x1="54.0" y1="187.9" x2="64.8" y2="187.9" stroke="rgb(190,70,20)" stroke-width="2"/>
<text x="65.0" y="189.8">P18</text>
<line x1="0.0" y1="205.9" x2="6.8" y2="205.9" stroke="rgb(180,50,25)" stroke-width="2"/>
<text x="7.0" y="207.8">P19</text>
<line x1="54.0" y1="205.9" x2="64.8" y2="205.9" stroke="rgb(160,30,20)" stroke-width="2"/>
<text x="65.0" y="207.8">P20</text>
<line x1="0.0" y1="223.9" x2="6.8" y2="223.9" stroke="rgb(0,70,210)" stroke-width="2"/>
<text x="7.0" y="225.8">P21</text>
<line x1="54.0" y1="223.9" x2="64.8" y2="223.9" stroke="rgb(0,110,210)" stroke-width="2"/>
<text x="65.0" y="225.8">P22</text>
<line x1="0.0" y1="241.9" x2="6.8" y2="241.9" stroke="rgb(0,150,205)" stroke-width="2"/>
<text x="7.0" y="243.8">P23</text>
<line x1="54.0" y1="241.9" x2="64.8" y2="241.9" stroke="rgb(0,170,190)" stroke-width="2"/>
<text x="65.0" y="243.8">P24</text>
<line x1="0.0" y1="259.9" x2="6.8" y2="259.9" stroke="rgb(0,170,130)" stroke-width="2"/>
<text x="7.0" y="261.8">P25</text>
<line x1="54.0" y1="259.9" x2="64.8" y2="259.9" stroke="rgb(0,170,90)" stroke-width="2"/>
<text x="65.0" y="261.8">P26</text>
<line x1="0.0" y1="277.9" x2="6.8" y2="277.9" stroke="rgb(0,180,60)" stroke-width="2"/>
<text x="7.0" y="279.8">P27</text>
<line x1="54.0" y1="277.9" x2="64.8" y2="277.9" stroke="rgb(0,190,30)" stroke-width="2"/>
<text x="65.0" y="279.8">P28</text>
<line x1="0.0" y1="295.9" x2="6.8" y2="295.9" stroke="rgb(0,200,0)" stroke-width="2"/>
<text x="7.0" y="297.8">P29</text>
<line x1="54.0" y1="295.9" x2="64.8" y2="295.9" stroke="rgb(210,200,0)" stroke-width="2"/>
<text x="65.0" y="297.8">P30</text>
<line x1="0.0" y1="313.9" x2="6.8" y2="313.9" stroke="rgb(205,180,0)" stroke-width="2"/>
<text x="7.0" y="315.8">P31</text>
<line x1="54.0" y1="313.9" x2="64.8" y2="313.9" stroke="rgb(200,160,0)" stroke-width="2"/>
<text x="65.0" y="315.8">P32</text>
<line x1="0.0" y1="331.9" x2="6.8" y2="331.9" stroke="rgb(200,140,0)" stroke-width="2"/>
<text x="7.0" y="333.8">P33</text>
<line x1="54.0" y1="331.9" x2="64.8" y2="331.9" stroke="rgb(200,120,0)" stroke-width="2"/>
<text x="65.0" y="333.8">P34</text>
<line x1="0.0" y1="349.9" x2="6.8" y2="349.9" stroke="rgb(195,105,0)" stroke-width="2"/>
<text x="7.0" y="351.8">P35</text>
<line x1="54.0" y1="349.9" x2="64.8" y2="349.9" stroke="rgb(190,90,10)" stroke-width="2"/>
<text x="65.0" y="351.8">P36</text>
<line x1="0.0" y1="367.9" x2="6.8" y2="367.9" stroke="rgb(190,70,20)" stroke-width="2"/>
<text x="7.0" y="369.8">P37</text>
<line x1="54.0" y1="367.9" x2="64.8" y2="367.9" stroke="rgb(180,50,25)" stroke-width="2"/>
<text x="65.0" y="369.8">P38</text>
<line x1="0.0" y1="385.9" x2="6.8" y2="385.9" stroke="rgb(160,30,20)" stroke-width="2"/>
<text x="7.0" y="387.8">P39</text>
<line x1="54.0" y1="385.9" x2="64.8" y2="385.9" stroke="rgb(0,70,210)" stroke-width="2"/>
<text x="65.0" y="387.8">P40</text>
<line x1="0.0" y1="403.9" x2="6.8" y2="403.9" stroke="rgb(0,110,210)" stroke-width="2"/>
<text x="7.0" y="405.8">P41</text>
<line x1="54.0" y1="403.9" x2="64.8" y2="403.9" stroke="rgb(0,150,205)" stroke-width="2"/>
<text x="65.0" y="405.8">P42</text>
<line x1="0.0" y1="421.9" x2="6.8" y2="421.9" stroke="rgb(0,170,190)" stroke-width="2"/>
<text x="7.0" y="423.8">P43</text>
<line x1="54.0" y1="421.9" x2="64.8" y2="421.9" stroke="rgb(0,170,130)" stroke-width="2"/>
<text x="65.0" y="423.8">P44</text>
<line x1="0.0" y1="439.9" x2="6.8" y2="439.9" stroke="rgb(0,170,90)" stroke-width="2"/>
<text x="7.0" y="441.8">P45</text>
<line x1="54.0" y1="439.9" x2="64.8" y2="439.9" stroke="rgb(0,180,60)" stroke-width="2"/>
<text x="65.0" y="441.8">P46</text>
<line x1="0.0" y1="457.9" x2="6.8" y2="457.9" stroke="rgb(0,190,30)" stroke-width="2"/>
<text x="7.0" y="459.8">P47</text>
<line x1="54.0" y1="457.9" x2="64.8" y2="457.9" stroke="rgb(0,200,0)" stroke-width="2"/>
<text x="65.0" y="459.8">P48</text>
<line x1="0.0" y1="475.9" x2="6.8" y2="475.9" stroke="rgb(210,200,0)" stroke-width="2"/>
<text x="7.0" y="477.8">P49</text>
<line x1="54.0" y1="475.9" x2="64.8" y2="475.9" stroke="rgb(205,180,0)" stroke-width="2"/>
<text x="65.0" y="477.8">P50</text>
<line x1="0" y1="493.9" x2="6.8" y2="493.9" stroke="#0000ff" stroke-width="2"/>
<text x="7.0" y="495.8">Control</text>
<line x1="54" y1="493.9" x2="64.8" y2="493.9" stroke="#fff" stroke-width="2.6"/>
<text x="65.0" y="495.8">Ens. mean</text>
<line x1="54" y1="521.9" x2="64.8" y2="521.9" stroke="#ee3e3a" stroke-width="2.4"/>
<text x="65.0" y="523.2">1991-2020</text>
<text x="65.0" y="535.9">mean</text>
<line x1="0" y1="536.4" x2="6.8" y2="536.4" stroke="#00e000" stroke-width="2"/>
<text x="7.0" y="539.0">Oper</text>
</g>
</svg>
</body></html>
